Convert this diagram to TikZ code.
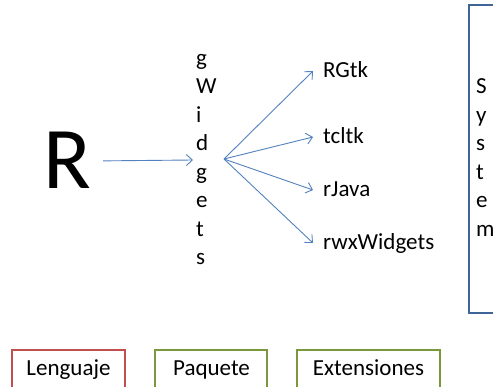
\documentclass[tikz,border=0pt]{standalone}
\usepackage{fontspec}
\setmainfont{Carlito}
\usetikzlibrary{arrows.meta}
\definecolor{arrblue}{RGB}{84,130,190}
\definecolor{sysblue}{RGB}{62,100,152}
\definecolor{langred}{RGB}{192,80,77}
\definecolor{pkggreen}{RGB}{122,152,60}
\tikzset{
  arr/.style={draw=arrblue, line width=0.9pt, -{Straight Barb[length=6pt,width=11pt,line width=0.9pt]}},
  lbl/.style={font=\fontsize{23}{28}\selectfont, inner sep=0pt, text height=14pt, text depth=0pt, anchor=west},
  letter/.style={font=\fontsize{23}{28}\selectfont, inner sep=0pt, anchor=base west},
  legend/.style={draw, line width=1.8pt},
  legtext/.style={font=\fontsize{23}{28}\selectfont, inner sep=0pt, anchor=base},
}
\begin{document}
\begin{tikzpicture}[x=1pt,y=-1pt]
\useasboundingbox (0,0) rectangle (493,387);
\clip (0,0) rectangle (493,387);
\fill[white] (0,0) rectangle (493,387);
% R
\node[font=\fontsize{88}{100}\selectfont, inner sep=0pt, text height=56pt, text depth=0pt, anchor=base] (R) at (67,189) {R};
% gWidgets vertical
\foreach \ch [count=\i] in {g,W,i,d,g,e,t,s}
  \node[letter] (gw\i) at (196,{65.5+(\i-1)*28.5}) {\ch};
\coordinate (gwin) at (193,160);
\coordinate (gwout) at (224,159);
\draw[arr, shorten <=12pt] (R.east) -- (gwin);
% targets
\node[lbl] (rgtk) at (323,71) {RGtk};
\node[lbl] (tcltk) at (323,137) {tcltk};
\node[lbl] (rjava) at (323,190) {rJava};
\node[lbl] (rwx) at (323,243) {rwxWidgets};
\foreach \t in {rgtk,tcltk,rjava,rwx}
  \draw[arr] (gwout) -- ([xshift=-10pt]\t.west);
% System box
\draw[draw=sysblue, line width=1.8pt] (520,5) -- (469,5) -- (469,313) -- (520,313);
\foreach \ch [count=\i] in {S,y,s,t,e,m}
  \node[letter] (sys\i) at (476,{94+(\i-1)*28.5}) {\ch};
% legend boxes
\draw[legend, draw=langred] (12,395) -- (12,350) -- (125,350) -- (125,395);
\node[legtext] (leng) at (68.5,376) {Lenguaje};
\draw[legend, draw=pkggreen] (155,395) -- (155,350) -- (267,350) -- (267,395);
\node[legtext] (paq) at (211.5,376) {Paquete};
\draw[legend, draw=pkggreen] (297,395) -- (297,350) -- (440,350) -- (440,395);
\node[legtext] (ext) at (368.5,376) {Extensiones};
\end{tikzpicture}
\end{document}
